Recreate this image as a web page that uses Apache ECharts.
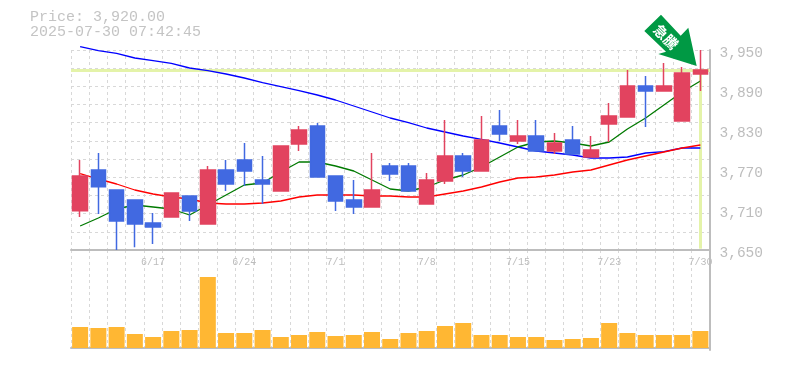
<!DOCTYPE html>
<html><head><meta charset="utf-8">
<style>html,body{margin:0;padding:0;background:#fff}#c{width:785px;height:370px}</style>
<script src="https://cdn.jsdelivr.net/npm/echarts@6/dist/echarts.min.js"></script>
</head><body><div id="c"></div>
<script>
const categories=['6/11','6/12','6/13','6/16','6/17','6/18','6/19','6/20','6/23','6/24','6/25','6/26','6/27','6/30','7/1','7/2','7/3','7/4','7/7','7/8','7/9','7/10','7/11','7/14','7/15','7/16','7/17','7/18','7/22','7/23','7/24','7/25','7/28','7/29','7/30'];
const labelled=['6/17','6/24','7/1','7/8','7/15','7/23','7/30'];
const opens =[3709,3770,3740,3725,3690.5,3699.5,3731,3689,3770,3785,3755,3738.5,3809,3836,3761,3725,3714.5,3776,3776,3719,3753.5,3791,3768.5,3836,3813.5,3821,3798.5,3815,3789.5,3839,3849.5,3896,3888.5,3843.5,3914];
const closes=[3761,3745,3693.5,3689,3684.5,3735.5,3708.5,3770,3749,3768.5,3749,3806,3830,3759.5,3723.5,3714.5,3740,3764,3738.5,3755,3791,3768.5,3815,3824,3821,3798.5,3810.5,3794,3800,3851,3896,3888.5,3896,3915.5,3920];
const highs =[3785,3795.5,3740,3725,3705.5,3735.5,3731,3776,3785,3810.5,3791,3806,3836,3840.5,3761,3755,3795.5,3780.5,3780.5,3765.5,3845,3795.5,3851,3860,3845,3845,3825.5,3836,3821,3870.5,3920,3911,3930.5,3924.5,3950];
const lows  =[3699.5,3704,3650,3654,3659,3699.5,3693.5,3689,3738.5,3746,3719,3738.5,3798.5,3759.5,3708.5,3704,3714.5,3753.5,3738.5,3719,3749,3759.5,3768.5,3813.5,3809,3798.5,3794,3794,3789.5,3812,3849.5,3834.5,3888.5,3843.5,3888.5];
const maLong=[3955,3949,3945,3938,3934,3930,3923,3919,3914,3908,3901,3895,3889,3882.5,3875,3866,3857,3848,3841,3833,3827,3821,3816,3810.5,3804.5,3798.5,3795.5,3792.5,3788,3788,3789.5,3795.5,3797.5,3803,3803];
const maMid =[3686,3698,3711.5,3717.5,3714.5,3711.5,3702.5,3717.5,3732.5,3747.5,3750.5,3767,3782,3782,3776,3768.5,3755,3741.5,3738.5,3744.5,3755,3762.5,3774.5,3789.5,3804.5,3812,3813.5,3810.5,3806,3812,3831.5,3848,3867.5,3887,3903.5];
const maShort=[3764.5,3756.5,3749,3740,3734,3729.5,3726.5,3720.5,3719,3719,3720.5,3723.5,3729.5,3732.5,3732.5,3732.5,3731,3731,3729.5,3729.5,3734,3738.5,3744.5,3752,3758,3759.5,3762.5,3767,3770,3777.5,3785,3791,3797,3803,3807.5];
const volumes=[21000,20000,21000,14000,11000,17000,18000,71000,15000,15000,18000,11000,13000,16000,12000,13000,16000,9000,15000,17000,22000,25000,13000,13000,11000,11000,8000,9000,10000,25000,15000,13000,13000,13000,17000];
const priceTicks=[3650,3710,3770,3830,3890,3950];
const lastPrice='3,920.00', stamp='2025-07-30 07:42:45';
const MONO='"Liberation Mono","Courier New",monospace';
const GRAY='#bdbdbd', DASH={color:'#d8d8d8',type:[3,3],width:1};
const chart=echarts.init(document.getElementById('c'),null,{renderer:'canvas'});
const lineSeries=(d,c,n,z)=>({name:n,type:'line',data:d,symbol:'none',xAxisIndex:0,yAxisIndex:0,z:z,silent:true,clip:false,lineStyle:{color:c,width:1.3},animation:false});
chart.setOption({
 animation:false,
 grid:[{left:71,top:50,width:638.5,height:200},{left:71,top:250,width:638.5,height:100}],
 xAxis:[
  {type:'category',gridIndex:0,data:categories,boundaryGap:true,
   axisLine:{lineStyle:{color:'#bdbdbd',width:2}},axisTick:{show:false},
   splitLine:{show:true,interval:0,lineStyle:DASH},
   axisLabel:{interval:(i,v)=>labelled.includes(v),color:GRAY,fontFamily:MONO,fontSize:10,margin:7,hideOverlap:false}},
  {type:'category',gridIndex:1,data:categories,boundaryGap:true,
   axisLine:{lineStyle:{color:'#bdbdbd',width:2}},axisTick:{show:false},axisLabel:{show:false},
   splitLine:{show:true,interval:0,lineStyle:DASH}}
 ],
 yAxis:[
  {type:'value',gridIndex:0,position:'right',min:3650,max:3950,scale:true,
   axisLine:{show:true,lineStyle:{color:'#bdbdbd',width:2}},axisTick:{show:false},splitLine:{show:false},
   axisLabel:{customValues:priceTicks,color:GRAY,fontFamily:MONO,fontSize:14.5,margin:10,verticalAlign:'top',lineHeight:6,
     formatter:v=>v.toLocaleString('en-US')}},
  {type:'value',gridIndex:0,position:'left',min:0,max:11,interval:1,
   axisLine:{show:false},axisTick:{show:false},axisLabel:{show:false},splitLine:{show:true,lineStyle:DASH}},
  {type:'value',gridIndex:1,position:'right',min:-2000,max:98000,
   axisLine:{show:true,lineStyle:{color:'#bdbdbd',width:2}},axisTick:{show:false},axisLabel:{show:false},splitLine:{show:false}}
 ],
 series:[
  {type:'line',data:[],xAxisIndex:0,yAxisIndex:0,z:1,symbol:'none',silent:true,
   markLine:{z:1,silent:true,symbol:'none',label:{show:false},animation:false,
    lineStyle:{color:'#e4f3a9',width:3,type:'solid'},
    data:[
     [{xAxis:0,yAxis:3920,x:71},{xAxis:34,yAxis:3920,x:710}],
     [{xAxis:34,yAxis:3920},{xAxis:34,yAxis:3652}]
    ]}},
  lineSeries(maLong,'#0000ff','MA long',2),
  lineSeries(maMid,'#007a00','MA mid',2),
  lineSeries(maShort,'#ff0000','MA short',2),
  {type:'candlestick',name:'Price',xAxisIndex:0,yAxisIndex:0,z:3,barWidth:15,silent:true,clip:false,
   data:categories.map((_,i)=>[opens[i],closes[i],lows[i],highs[i]]),
   itemStyle:{color:'#e2435f',color0:'#4169e1',borderColor:'#e2435f',borderColor0:'#4169e1',borderWidth:1.5}},
  {type:'bar',name:'Volume',xAxisIndex:1,yAxisIndex:2,data:volumes,barWidth:16,silent:true,z:3,
   itemStyle:{color:'#ffb733'}}
 ],
 graphic:[
  {type:'text',left:30,top:10,style:{text:'Price: '+lastPrice,font:'15px '+MONO,fill:'#c4c4c4'}},
  {type:'text',left:30,top:25,style:{text:stamp,font:'15px '+MONO,fill:'#c4c4c4'}},
  {type:'polygon',z:10,shape:{points:[[661,14.7],[644.3,31],[666,51.7],[658.3,54],[696.7,66],[688.3,27.7],[680.7,35.7]]},style:{fill:'#009944'}},
  {type:'text',z:11,x:666,y:37,rotation:-Math.PI/4,originX:0,originY:0,
   style:{text:'急騰',font:'bold 14px "Noto Sans CJK JP"',fill:'#fff',align:'center',verticalAlign:'middle'}}
 ]
});
</script></body></html>
